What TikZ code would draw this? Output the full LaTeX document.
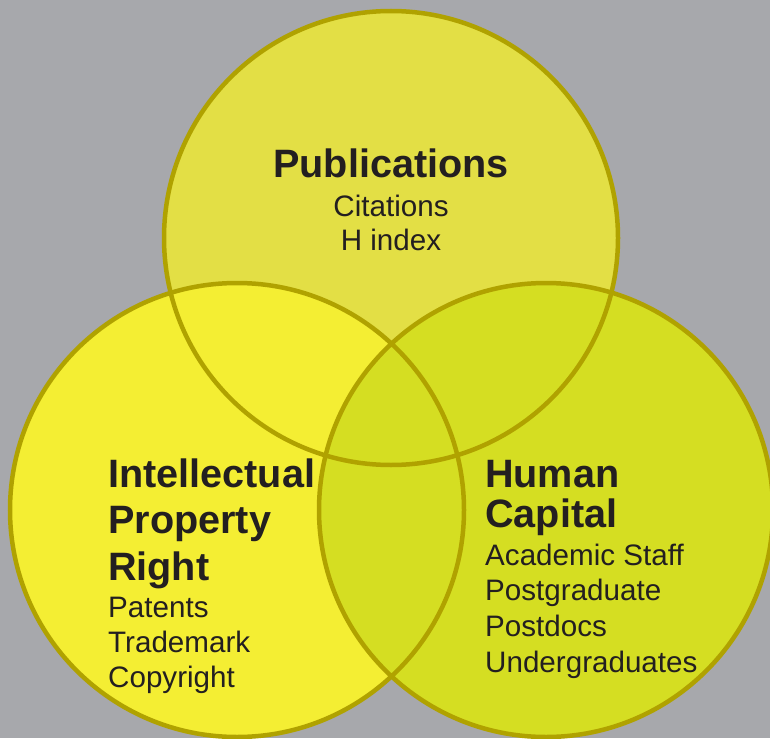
\documentclass[tikz,border=0pt]{standalone}
\usepackage{fontspec}
\setmainfont{Liberation Sans}
\definecolor{bg}{HTML}{A7A8AC}
\definecolor{topfill}{HTML}{E3DF45}
\definecolor{leftfill}{HTML}{F4EE33}
\definecolor{rightfill}{HTML}{D5DE22}
\definecolor{ring}{HTML}{B0A200}
\definecolor{ink}{HTML}{231F20}
\begin{document}
\begin{tikzpicture}[x=1pt,y=-1pt,
  ringline/.style={draw=ring,line width=4.5pt},
  headtxt/.style={inner sep=0pt,text=ink,font=\fontsize{39.6}{47}\selectfont\bfseries},
  itemtxt/.style={inner sep=0pt,text=ink,font=\fontsize{29.6}{35}\selectfont}]
\useasboundingbox (0,0) rectangle (770,738);
\clip (0,0) rectangle (770,738);
\fill[bg] (0,0) rectangle (770,738);
\coordinate (ct) at (391,238);
\coordinate (cl) at (237,510);
\coordinate (cr) at (546,510);
\fill[topfill] (ct) circle[radius=227];
\fill[leftfill] (cl) circle[radius=227];
\fill[rightfill] (cr) circle[radius=227];
\draw[ringline] (ct) circle[radius=227];
\draw[ringline] (cl) circle[radius=227];
\draw[ringline] (cr) circle[radius=227];
% top
\node[headtxt,anchor=base] (pub) at (391,178) {Publications};
\node[itemtxt,anchor=base] (cit) at (391,216) {Citations};
\node[itemtxt,anchor=base] (hidx) at (391,250) {H index};
% left
\node[headtxt,anchor=base west] (ip1) at (108,487) {Intellectual};
\node[headtxt,anchor=base west] (ip2) at (108,533) {Property};
\node[headtxt,anchor=base west] (ip3) at (108,580) {Right};
\node[itemtxt,anchor=base west] (pat) at (108,617) {Patents};
\node[itemtxt,anchor=base west] (tm) at (108,652) {Trademark};
\node[itemtxt,anchor=base west] (cpy) at (108,687) {Copyright};
% right
\node[headtxt,anchor=base west] (hc1) at (485,487) {Human};
\node[headtxt,anchor=base west] (hc2) at (485,527) {Capital};
\node[itemtxt,anchor=base west] (acs) at (485,565) {Academic Staff};
\node[itemtxt,anchor=base west] (pg) at (485,600) {Postgraduate};
\node[itemtxt,anchor=base west] (pd) at (485,636) {Postdocs};
\node[itemtxt,anchor=base west] (ug) at (485,672) {Undergraduates};
\end{tikzpicture}
\end{document}
